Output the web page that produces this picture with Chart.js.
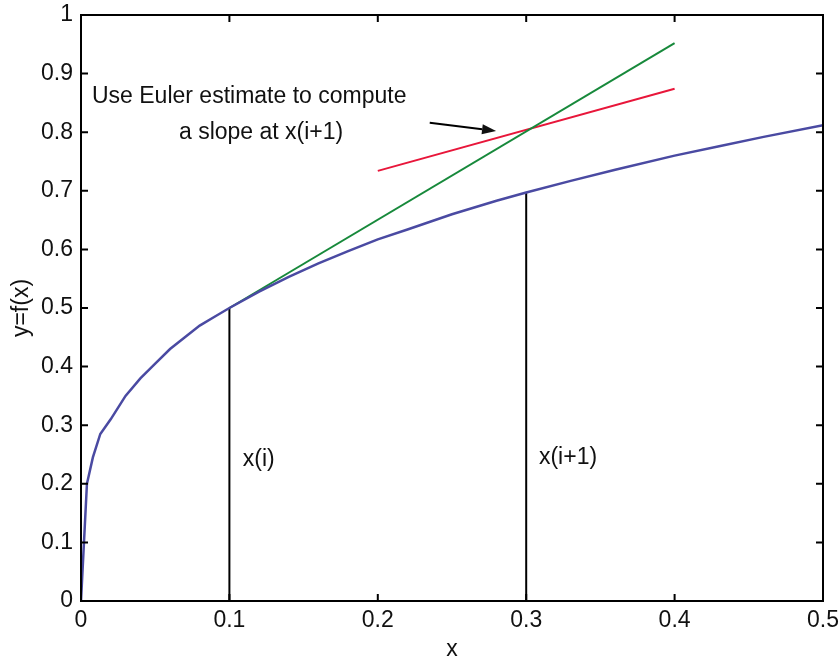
<!DOCTYPE html>
<html>
<head>
<meta charset="utf-8">
<script src="https://cdn.jsdelivr.net/npm/chart.js@4.4.1/dist/chart.umd.min.js"></script>
<style>
  body { margin: 0; background: #fff; }
  #wrap { width: 840px; height: 658px; }
</style>
</head>
<body>
<div id="wrap"><canvas id="chart"></canvas></div>
<script>
// curve y=f(x)
const curveX = [0, 0.004, 0.008, 0.013, 0.02, 0.03, 0.04, 0.05, 0.06, 0.07, 0.08, 0.09, 0.1,
  0.12, 0.14, 0.16, 0.18, 0.2, 0.22, 0.25, 0.28, 0.3, 0.33, 0.36, 0.4, 0.43, 0.46, 0.5];
const curveY = [0, 0.2, 0.245, 0.285, 0.31, 0.35, 0.38, 0.405, 0.43, 0.45, 0.47, 0.485, 0.5,
  0.528, 0.553, 0.576, 0.597, 0.617, 0.634, 0.66, 0.683, 0.697, 0.717, 0.736, 0.76, 0.776, 0.792, 0.812];

// green tangent from x(i), red slope at x(i+1)
const tangentX = [0.1, 0.4];
const tangentY = [0.5, 0.952];
const slopeX = [0.2, 0.4];
const slopeY = [0.734, 0.874];

// vertical markers at x(i) and x(i+1)
const stepX = [0.1, 0.3];
const stepY = [0.5, 0.697];

const xTicks = [0, 0.1, 0.2, 0.3, 0.4, 0.5];
const yTicks = [0, 0.1, 0.2, 0.3, 0.4, 0.5, 0.6, 0.7, 0.8, 0.9, 1];

const noteText = ["Use Euler estimate to compute", "a slope at x(i+1)", "x(i)", "x(i+1)"];
const noteX = [0.0074, 0.066, 0.109, 0.3086];
const noteY = [0.86, 0.799, 0.242, 0.244];

const arrowFrom = [0.235, 0.816];
const arrowTo = [0.2797, 0.802];

const FONT = "'Liberation Sans', Arial, sans-serif";

function pts(xs, ys) {
  return xs.map((x, i) => ({ x: x, y: ys[i] }));
}
function fmt(v) {
  return String(+v.toFixed(1));
}

const datasets = [
  { data: pts(curveX, curveY), borderColor: "#4a4aa2", borderWidth: 2.5 },
  { data: pts(tangentX, tangentY), borderColor: "#17893b", borderWidth: 2 },
  { data: pts(slopeX, slopeY), borderColor: "#e8163a", borderWidth: 2 },
];
stepX.forEach((x, i) => {
  datasets.push({ data: [{ x: x, y: 0 }, { x: x, y: stepY[i] }], borderColor: "#000", borderWidth: 2 });
});

// frame, inward ticks, notes and arrow
const decor = {
  id: "decor",
  afterDatasetsDraw(chart) {
    const ctx = chart.ctx;
    const a = chart.chartArea;
    const xs = chart.scales.x;
    const ys = chart.scales.y;
    const tl = 7;
    ctx.save();
    ctx.strokeStyle = "#000";
    ctx.lineWidth = 2;
    ctx.strokeRect(a.left, a.top, a.right - a.left, a.bottom - a.top);
    ctx.beginPath();
    xTicks.forEach((v) => {
      const px = xs.getPixelForValue(v);
      ctx.moveTo(px, a.bottom); ctx.lineTo(px, a.bottom - tl);
      ctx.moveTo(px, a.top); ctx.lineTo(px, a.top + tl);
    });
    yTicks.forEach((v) => {
      const py = ys.getPixelForValue(v);
      ctx.moveTo(a.left, py); ctx.lineTo(a.left + tl, py);
      ctx.moveTo(a.right, py); ctx.lineTo(a.right - tl, py);
    });
    ctx.stroke();

    ctx.fillStyle = "#111";
    ctx.font = "23px " + FONT;
    ctx.textBaseline = "middle";
    ctx.textAlign = "left";
    noteText.forEach((t, i) => {
      ctx.fillText(t, xs.getPixelForValue(noteX[i]), ys.getPixelForValue(noteY[i]));
    });

    const x1 = xs.getPixelForValue(arrowFrom[0]);
    const y1 = ys.getPixelForValue(arrowFrom[1]);
    const x2 = xs.getPixelForValue(arrowTo[0]);
    const y2 = ys.getPixelForValue(arrowTo[1]);
    const ang = Math.atan2(y2 - y1, x2 - x1);
    const hl = 14, hw = 5;
    const bx = x2 - hl * Math.cos(ang);
    const by = y2 - hl * Math.sin(ang);
    ctx.beginPath();
    ctx.moveTo(x1, y1);
    ctx.lineTo(bx, by);
    ctx.stroke();
    ctx.beginPath();
    ctx.moveTo(x2, y2);
    ctx.lineTo(bx + hw * Math.sin(ang), by - hw * Math.cos(ang));
    ctx.lineTo(bx - hw * Math.sin(ang), by + hw * Math.cos(ang));
    ctx.closePath();
    ctx.fill();
    ctx.restore();
  },
};

new Chart(document.getElementById("chart"), {
  type: "scatter",
  data: { datasets: datasets },
  options: {
    responsive: true,
    maintainAspectRatio: false,
    animation: false,
    showLine: true,
    elements: { point: { radius: 0 }, line: { tension: 0 } },
    layout: { padding: { top: 15, right: 17, left: 0, bottom: 0 } },
    plugins: { legend: { display: false }, tooltip: { enabled: false } },
    scales: {
      x: {
        type: "linear",
        min: 0,
        max: 0.5,
        afterBuildTicks: (s) => { s.ticks = xTicks.map((v) => ({ value: v })); },
        afterFit: (s) => { s.height = 57; s.paddingLeft = 0; s.paddingRight = 0; },
        grid: { display: false, drawTicks: false },
        border: { display: false },
        ticks: { padding: 6, color: "#111", font: { family: FONT, size: 23 }, callback: fmt, maxRotation: 0 },
        title: { display: true, text: "x", color: "#111", font: { family: FONT, size: 23 }, padding: { top: 0, bottom: -5 } },
      },
      y: {
        type: "linear",
        min: 0,
        max: 1,
        afterBuildTicks: (s) => { s.ticks = yTicks.map((v) => ({ value: v })); },
        afterFit: (s) => { s.width = 81; s.paddingTop = 0; s.paddingBottom = 0; },
        grid: { display: false, drawTicks: false },
        border: { display: false },
        ticks: { padding: 8, color: "#111", font: { family: FONT, size: 23 }, callback: fmt },
        title: { display: true, text: "y=f(x)", color: "#111", font: { family: FONT, size: 23 }, padding: { top: 8, bottom: 0 } },
      },
    },
  },
  plugins: [decor],
});
</script>
</body>
</html>
